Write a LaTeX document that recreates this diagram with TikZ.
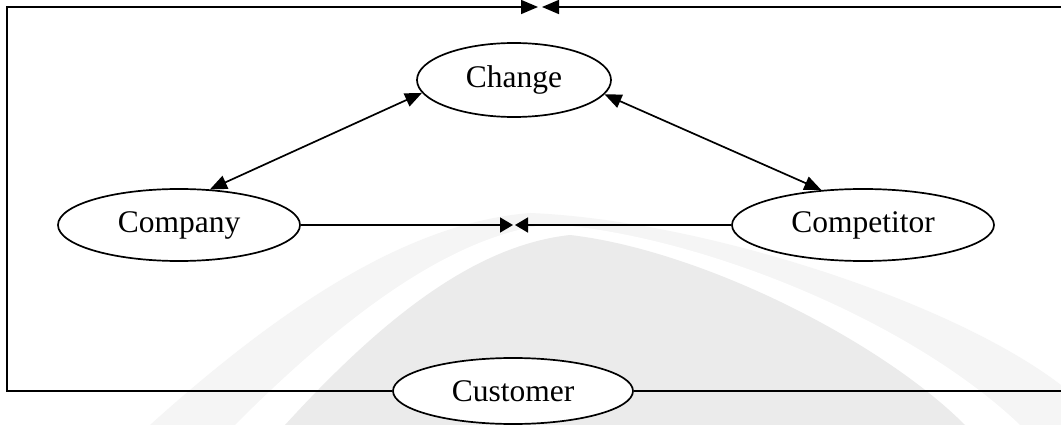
\documentclass[tikz,border=0pt]{standalone}
\usepackage{fontspec}
\setmainfont{Liberation Serif}
\usetikzlibrary{arrows.meta,shapes.geometric}
\begin{document}
\begin{tikzpicture}[x=1pt,y=-1pt,
  ell/.style 2 args={ellipse, draw, line width=1.7pt, fill=white, inner sep=0pt,
    minimum width=#1, minimum height=#2, font=\fontsize{31.5}{36}\selectfont},
  conn/.style={line width=1.7pt},
  arr/.style={conn, -{Triangle[length=17pt,width=14pt]}},
  arrs/.style={conn, -{Triangle[length=13pt,width=15pt]}},
  darr/.style={conn, {Triangle[length=17pt,width=14pt]}-{Triangle[length=17pt,width=14pt]}}
]
\useasboundingbox (0,0) rectangle (1061,425);
\fill[white] (0,0) rectangle (1061,425);
% faint background watermark shapes
\fill[gray!8] (150,425) .. controls (300,290) and (420,222) .. (530,213)
  .. controls (700,220) and (950,300) .. (1061,385) -- (1061,425) -- cycle;
\fill[white] (235,425) .. controls (360,300) and (460,235) .. (550,224)
  .. controls (700,235) and (910,320) .. (1020,425) -- cycle;
\fill[gray!16] (285,425) .. controls (390,310) and (480,245) .. (570,235)
  .. controls (700,250) and (880,340) .. (965,425) -- cycle;
% nodes
\node[ell={194pt}{74pt}] (chg) at (514,80) {Change};
\node[ell={242pt}{72pt}] (comp) at (179,225) {Company};
\node[ell={262pt}{72pt}] (compt) at (863,225) {Competitor};
\node[ell={240pt}{66pt}] (cust) at (513,391) {Customer};
% helper coordinates
\coordinate (tlc) at (7,7);
\coordinate (topL) at (538,7);
\coordinate (topR) at (542,7);
\coordinate (trc) at (1075,7);
\coordinate (midL) at (513,225);
\coordinate (midR) at (515,225);
% connectors
\draw[darr] (comp.49) -- (chg.188);
\draw[darr] (chg.351) -- (compt.140);
\draw[arrs] (comp.east) -- (midL);
\draw[arrs] (compt.west) -- (midR);
\draw[arr] (cust.west) -| (tlc) -- (topL);
\draw[arr] (cust.east) -| (trc) -- (topR);
\end{tikzpicture}
\end{document}
